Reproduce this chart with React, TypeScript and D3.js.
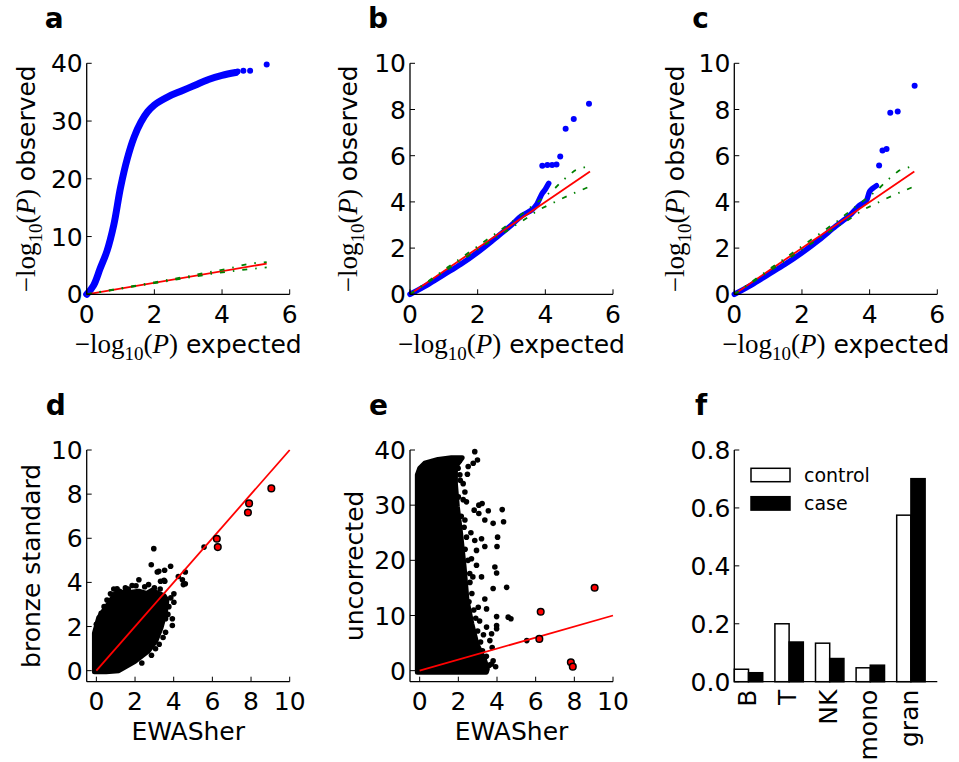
import React from 'react'
import * as d3 from 'd3'

type Pt = [number, number]

// a-c: QQ plots (expected, observed)
const qqCurveA: Pt[] = [[0, 0], [0.2, 1.5], [0.4, 4.5], [0.6, 7.5], [0.8, 12], [1.0, 18.5], [1.2, 23.5], [1.4, 27.2], [1.6, 29.8], [1.8, 31.6], [2.0, 32.8], [2.4, 34.2], [2.8, 35.2], [3.2, 36.2], [3.6, 37.2], [4.0, 37.9], [4.4, 38.4]]
const qqTailA: Pt[] = [[4.46, 38.6], [4.63, 38.7], [4.83, 38.7], [5.32, 39.8]]

const qqCurveB: Pt[] = [[0, 0], [0.5, 0.4], [1, 0.85], [1.5, 1.3], [2, 1.82], [2.5, 2.4], [3, 3.0], [3.3, 3.4], [3.6, 3.65], [3.75, 3.9], [3.9, 4.35], [4.0, 4.55], [4.1, 4.8]]
const qqTailB: Pt[] = [[3.91, 5.56], [4.06, 5.6], [4.2, 5.6], [4.33, 5.62], [4.44, 5.97], [4.6, 7.17], [4.84, 7.59], [5.29, 8.25]]

const qqCurveC: Pt[] = [[0, 0], [0.5, 0.4], [1, 0.85], [1.5, 1.3], [2, 1.8], [2.5, 2.35], [3, 2.95], [3.4, 3.4], [3.7, 3.85], [3.9, 4.05], [4.0, 4.45], [4.1, 4.6], [4.2, 4.7]]
const qqTailC: Pt[] = [[4.28, 5.58], [4.38, 6.22], [4.5, 6.29], [4.61, 7.86], [4.83, 7.91], [5.33, 9.03]]

const bandUpper: Pt[] = [[0, 0], [1, 1.05], [2, 2.08], [3, 3.12], [3.5, 3.7], [3.96, 4.2], [4.27, 4.57], [4.53, 4.95], [4.86, 5.35], [5.32, 5.58]]
const bandLower: Pt[] = [[0, 0], [1, 0.97], [2, 1.93], [3, 2.88], [3.5, 3.35], [3.79, 3.65], [4.16, 3.91], [4.51, 4.16], [4.88, 4.4], [5.32, 4.67]]
const expectedMax = 5.32

// d: bronze standard vs EWASher
const blobD: Pt[] = [[-0.1, -0.05], [-0.1, 1.7], [0.12, 2.4], [0.4, 2.75], [0.64, 3.05], [0.98, 3.5], [1.33, 3.55], [1.8, 3.55], [2.2, 3.6], [2.6, 3.5], [2.89, 3.65], [3.2, 3.5], [3.5, 3.4], [3.65, 3.2], [3.58, 2.7], [3.35, 1.95], [3.08, 1.35], [2.7, 0.9], [2.0, 0.42], [1.16, 0.0], [0.5, -0.05]]
const outliersD: Pt[] = [[2.97, 5.53], [2.84, 4.8], [3.23, 4.5], [3.53, 4.55], [3.84, 4.73], [3.32, 4.05], [3.54, 4.05], [4.45, 4.12], [4.24, 4.27], [4.6, 4.47], [4.6, 3.94], [2.2, 4.12], [1.85, 3.86], [1.07, 3.71], [0.73, 3.48], [4.01, 3.48], [4.01, 3.1], [3.93, 2.35], [3.58, 2.35], [3.93, 2.05], [3.58, 1.74], [3.06, 0.99], [0.73, 3.18], [5.57, 5.6], [3.15, 4.47], [3.5, 4.09], [4.5, 3.9], [1.5, 3.75], [2.5, 3.8], [0.4, 2.9], [1.2, 3.6], [3.3, 3.7], [2.7, 3.9], [3.0, 3.75], [1.65, 3.7], [0.55, 3.2], [0.25, 2.6], [0.0, 2.1], [3.75, 2.9], [3.7, 2.55], [3.45, 1.5], [3.25, 1.2], [2.85, 0.7], [2.35, 0.35], [3.85, 3.3], [2.05, 3.85], [0.9, 3.7]]
const redD: Pt[] = [[6.23, 5.98], [6.28, 5.6], [7.84, 7.17], [7.9, 7.58], [9.05, 8.26]]

// e: uncorrected vs EWASher
const blobE: Pt[] = [[-0.12, -0.3], [-0.12, 35.5], [0, 36.7], [0.26, 37.6], [0.95, 38.3], [1.64, 38.6], [2.2, 38.6], [1.85, 36.9], [1.85, 33.9], [1.95, 29.7], [2.12, 24.85], [2.3, 18.8], [2.45, 12.7], [2.7, 8.5], [2.96, 4.85], [3.37, 1.82], [3.5, 0.3], [3.45, -0.3]]
const outliersE: Pt[] = [[2.85, 39.7], [2.99, 38.2], [2.77, 37.6], [2.51, 37.0], [1.99, 36.7], [2.47, 35.6], [2.08, 35.5], [2.25, 33.9], [2.34, 32.4], [2.42, 30.6], [3.06, 30.0], [3.23, 30.3], [2.82, 29.1], [3.06, 28.5], [3.55, 29.0], [4.27, 29.2], [3.37, 27.3], [3.8, 26.7], [4.34, 27.0], [2.34, 27.3], [2.42, 24.2], [2.85, 23.6], [3.2, 23.9], [4.03, 24.2], [4.0, 22.5], [3.37, 22.5], [2.94, 21.8], [2.68, 20.3], [2.94, 19.1], [3.89, 18.8], [2.59, 17.6], [3.2, 17.0], [3.98, 17.7], [3.8, 14.9], [4.5, 15.1], [3.37, 13.0], [3.03, 11.5], [3.46, 11.2], [3.98, 9.8], [4.58, 9.7], [4.72, 9.4], [3.46, 7.9], [3.72, 6.7], [3.98, 7.6], [3.98, 8.2], [3.63, 5.45], [3.75, 4.2], [3.8, 1.8], [3.93, 0.7], [3.72, 1.2], [5.54, 5.45], [2.05, 38.0], [2.1, 34.5], [2.0, 31.5], [2.15, 28.0], [2.3, 26.0], [2.35, 22.0], [2.5, 20.0], [2.6, 16.0], [2.7, 14.0], [2.8, 11.0], [2.9, 9.5], [3.0, 7.2], [3.15, 5.2], [3.25, 3.6], [3.45, 2.6], [3.6, 1.0], [2.55, 12.5], [2.75, 17.0], [2.65, 25.0], [2.25, 31.0], [3.1, 9.0], [3.3, 6.5]]
const redE: Pt[] = [[9.05, 15.03], [6.26, 10.67], [6.19, 5.76], [7.82, 1.52], [7.92, 0.73]]

// f: cell type proportions
const cellTypes = ['B', 'T', 'NK', 'mono', 'gran']
const controlValues = [0.043, 0.2, 0.133, 0.048, 0.575]
const caseValues = [0.031, 0.137, 0.08, 0.057, 0.701]

const font = 'DejaVu Sans'
const serif = 'Liberation Serif'
const fs = 25
const axW = 203
const colX = [86.7, 410, 734.3]
const rowTop = [{ top: 63.3, h: 231 }, { top: 450, h: 231.7 }]

function Axes({ x, y, w, h, xs, ys, xTicks, yTicks, yFmt = (d: number) => String(d), showXTicks = true }: any) {
  return (
    <g>
      <line x1={x} x2={x} y1={y} y2={y + h} stroke="#000" strokeWidth={1.3} />
      <line x1={x} x2={x + w} y1={y + h} y2={y + h} stroke="#000" strokeWidth={1.3} />
      {yTicks.map((t: number) => (
        <g key={'y' + t}>
          <line x1={x} x2={x + 5} y1={ys(t)} y2={ys(t)} stroke="#000" strokeWidth={1} />
          <text x={x - 4} y={ys(t) + 9} textAnchor="end" fontFamily={font} fontSize={fs}>{yFmt(t)}</text>
        </g>
      ))}
      {xTicks.map((t: number) => (
        <g key={'x' + t}>
          {showXTicks && <line x1={xs(t)} x2={xs(t)} y1={y + h} y2={y + h - 5} stroke="#000" strokeWidth={1} />}
          {showXTicks && <text x={xs(t)} y={y + h + 28.5} textAnchor="middle" fontFamily={font} fontSize={fs}>{t}</text>}
        </g>
      ))}
    </g>
  )
}

function LogLabel({ word, x, y, rotate = false }: any) {
  return (
    <text transform={`translate(${x},${y})${rotate ? ' rotate(-90)' : ''}`} textAnchor="middle" fontFamily={font} fontSize={fs}>
      <tspan fontFamily={serif} fontSize={27}>−log</tspan>
      <tspan fontFamily={serif} fontSize={19} dy={7}>10</tspan>
      <tspan fontFamily={serif} fontSize={27} dy={-7}>(</tspan>
      <tspan fontFamily={serif} fontSize={27} fontStyle="italic">P</tspan>
      <tspan fontFamily={serif} fontSize={27}>)</tspan>
      <tspan>{' ' + word}</tspan>
    </text>
  )
}

function QQPanel({ col, yMax, yTicks, curve, tail, ylabelX, letter }: any) {
  const x0 = colX[col]
  const { top, h } = rowTop[0]
  const xs = d3.scaleLinear().domain([0, 6]).range([x0, x0 + axW])
  const ys = d3.scaleLinear().domain([0, yMax]).range([top + h, top])
  const line = d3.line<Pt>().x((d) => xs(d[0])).y((d) => ys(d[1])).curve(d3.curveCatmullRom)
  const straight = d3.line<Pt>().x((d) => xs(d[0])).y((d) => ys(d[1]))
  return (
    <g>
      <path d={line(curve) || ''} fill="none" stroke="#0000ff" strokeWidth={col === 0 ? 7 : 5.5} strokeLinecap="round" strokeLinejoin="round" />
      {tail.map((d: Pt, i: number) => (
        <circle key={i} cx={xs(d[0])} cy={ys(d[1])} r={3} fill="#0000ff" />
      ))}
      <path d={straight([[0, 0], [expectedMax, expectedMax]]) || ''} stroke="#ff0000" strokeWidth={1.8} />
      {[bandUpper, bandLower].map((b, i) => (
        <path key={i} d={straight(b) || ''} fill="none" stroke="#008000" strokeWidth={1.8} strokeDasharray="5,8,1.5,8" />
      ))}
      <Axes x={x0} y={top} w={axW} h={h} xs={xs} ys={ys} xTicks={[0, 2, 4, 6]} yTicks={yTicks} />
      <LogLabel word="expected" x={x0 + axW / 2} y={top + h + 58.3} />
      <LogLabel word="observed" x={ylabelX} y={top + h / 2} rotate />
      <text x={colX[col] - 42} y={28.3} fontFamily={font} fontWeight="bold" fontSize={28}>{letter}</text>
    </g>
  )
}

function ScatterPanel({ col, yMin, yMax, yTicks, blob, outliers, red, ylabel, ylabelX, letter }: any) {
  const x0 = colX[col]
  const { top, h } = rowTop[1]
  const xs = d3.scaleLinear().domain([-0.5, 10]).range([x0, x0 + axW])
  const ys = d3.scaleLinear().domain([yMin, yMax]).range([top + h, top])
  const straight = d3.line<Pt>().x((d) => xs(d[0])).y((d) => ys(d[1]))
  return (
    <g>
      <path d={(straight(blob) || '') + 'Z'} fill="#000" stroke="#000" strokeWidth={5} strokeLinejoin="round" />
      {outliers.map((d: Pt, i: number) => (
        <circle key={i} cx={xs(d[0])} cy={ys(d[1])} r={2.8} fill="#000" />
      ))}
      <path d={straight([[0, 0], [10, 10]]) || ''} stroke="#ff0000" strokeWidth={1.8} />
      {red.map((d: Pt, i: number) => (
        <circle key={i} cx={xs(d[0])} cy={ys(d[1])} r={3.3} fill="#ff0000" stroke="#000" strokeWidth={1.5} />
      ))}
      <Axes x={x0} y={top} w={axW} h={h} xs={xs} ys={ys} xTicks={[0, 2, 4, 6, 8, 10]} yTicks={yTicks} />
      <text x={x0 + axW / 2} y={top + h + 58.3} textAnchor="middle" fontFamily={font} fontSize={fs}>EWASher</text>
      <text transform={`translate(${ylabelX},${top + h / 2}) rotate(-90)`} textAnchor="middle" fontFamily={font} fontSize={fs}>{ylabel}</text>
      <text x={x0 - 41} y={415} fontFamily={font} fontWeight="bold" fontSize={28}>{letter}</text>
    </g>
  )
}

function BarPanel() {
  const x0 = colX[2]
  const { top, h } = rowTop[1]
  const xs = d3.scaleLinear().domain([0, 5]).range([x0, x0 + axW])
  const ys = d3.scaleLinear().domain([0, 0.8]).range([top + h, top])
  const bw = 0.35
  return (
    <g>
      {cellTypes.map((c, i) => (
        <g key={c}>
          <rect x={xs(i)} y={ys(controlValues[i])} width={xs(i + bw) - xs(i)} height={ys(0) - ys(controlValues[i])} fill="#fff" stroke="#000" strokeWidth={1.5} />
          <rect x={xs(i + bw)} y={ys(caseValues[i])} width={xs(i + 2 * bw) - xs(i + bw)} height={ys(0) - ys(caseValues[i])} fill="#000" stroke="#000" strokeWidth={1.5} />
          <text transform={`translate(${xs(i + bw) + 7},${top + h + 8}) rotate(-90)`} textAnchor="end" fontFamily={font} fontSize={fs}>{c}</text>
        </g>
      ))}
      <Axes x={x0} y={top} w={axW} h={h} xs={xs} ys={ys} xTicks={[]} yTicks={[0, 0.2, 0.4, 0.6, 0.8]} yFmt={(d: number) => d.toFixed(1)} showXTicks={false} />
      <rect x={751} y={468.3} width={39} height={13.4} fill="#fff" stroke="#000" strokeWidth={1.5} />
      <rect x={751} y={496.7} width={39} height={13.4} fill="#000" stroke="#000" strokeWidth={1.5} />
      <text x={804} y={482} fontFamily={font} fontSize={19}>control</text>
      <text x={804} y={510} fontFamily={font} fontSize={19}>case</text>
      <text x={695} y={415} fontFamily={font} fontWeight="bold" fontSize={28}>f</text>
    </g>
  )
}

export default function App() {
  return (
    <svg width={959} height={762} style={{ position: 'absolute', left: 0, top: 0, background: '#fff' }}>
      <QQPanel col={0} yMax={40} yTicks={[0, 10, 20, 30, 40]} curve={qqCurveA} tail={qqTailA} ylabelX={35} letter="a" />
      <QQPanel col={1} yMax={10} yTicks={[0, 2, 4, 6, 8, 10]} curve={qqCurveB} tail={qqTailB} ylabelX={357} letter="b" />
      <QQPanel col={2} yMax={10} yTicks={[0, 2, 4, 6, 8, 10]} curve={qqCurveC} tail={qqTailC} ylabelX={684} letter="c" />
      <ScatterPanel col={0} yMin={-0.5} yMax={10} yTicks={[0, 2, 4, 6, 8, 10]} blob={blobD} outliers={outliersD} red={redD} ylabel="bronze standard" ylabelX={40} letter="d" />
      <ScatterPanel col={1} yMin={-2} yMax={40} yTicks={[0, 10, 20, 30, 40]} blob={blobE} outliers={outliersE} red={redE} ylabel="uncorrected" ylabelX={363} letter="e" />
      <BarPanel />
    </svg>
  )
}
